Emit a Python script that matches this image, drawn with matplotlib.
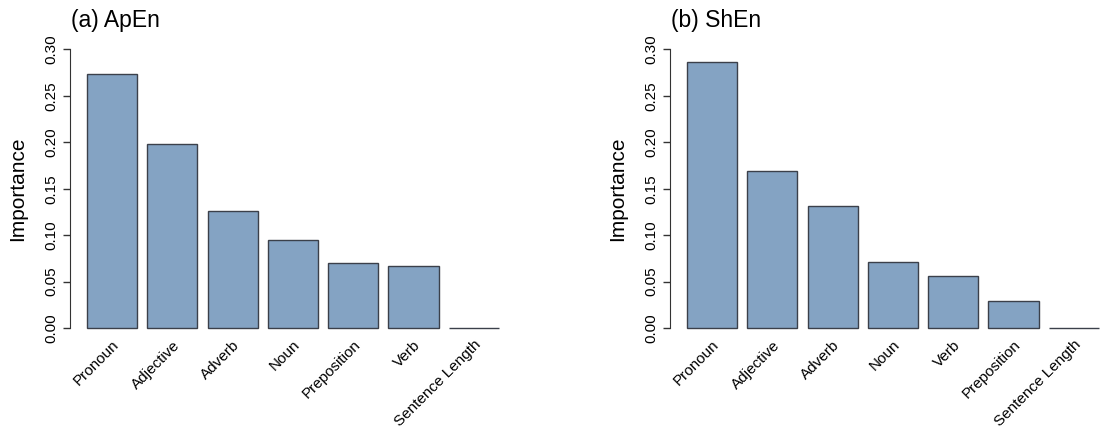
import matplotlib
import numpy as np

matplotlib.use("Agg")
import matplotlib.pyplot as plt

plt.rcParams["font.family"] = ["Liberation Sans", "DejaVu Sans"]

# Panel (a): ApEn
apen_features = ["Pronoun", "Adjective", "Adverb", "Noun", "Preposition", "Verb", "Sentence Length"]
apen_importance = [0.274, 0.198, 0.126, 0.095, 0.070, 0.067, 0.0]

# Panel (b): ShEn
shen_features = ["Pronoun", "Adjective", "Adverb", "Noun", "Verb", "Preposition", "Sentence Length"]
shen_importance = [0.286, 0.169, 0.131, 0.071, 0.056, 0.029, 0.0]

y_ticks = [0.00, 0.05, 0.10, 0.15, 0.20, 0.25, 0.30]

BAR_COLOR = "#84A3C3"
EDGE_COLOR = "#3b404a"
AXIS_COLOR = "#333333"

W, H = 1103, 430


def draw_panel(ax, title, features, values):
    """R barplot look: width 1, space 0.2, left axis only."""
    n = len(values)
    centers = 0.7 + 1.2 * np.arange(n)
    ax.bar(centers, values, width=1.0, color=BAR_COLOR,
           edgecolor=EDGE_COLOR, linewidth=1.0)
    lo, hi = 0.2, 1.2 * n + 0.2
    pad = 0.04 * (hi - lo)
    ax.set_xlim(lo - pad, hi + pad)
    ax.set_ylim(-0.012, 0.312)

    for side in ["top", "right", "bottom"]:
        ax.spines[side].set_visible(False)
    ax.spines["left"].set_bounds(0, 0.30)
    ax.spines["left"].set_color(AXIS_COLOR)

    ax.set_yticks(y_ticks)
    ax.set_yticklabels([f"{t:.2f}" for t in y_ticks], rotation=90, va="center",
                       fontsize=11)
    ax.tick_params(axis="y", length=5, width=1, color=AXIS_COLOR, pad=3.5)
    ax.set_xticks([])

    for c, label in zip(centers, features):
        ax.text(c + 0.1, -0.016, label, rotation=45, ha="right", va="center",
                rotation_mode="anchor", fontsize=11, clip_on=False)

    ax.text(-0.114, 0.5, "Importance", transform=ax.transAxes, rotation=90,
            ha="center", va="center", fontsize=15)
    ax.text(0.002, 1.022, title, transform=ax.transAxes, fontsize=16.5,
            ha="left", va="bottom")


fig = plt.figure(figsize=(W / 100, H / 100), dpi=100)
# axes boxes in pixels: x0, top, width, height
bottom = (H - 339.1) / H
height = 300.8 / H
width = 456 / W
ax1 = fig.add_axes([70 / W, bottom, width, height])
ax2 = fig.add_axes([670 / W, bottom, width, height])

draw_panel(ax1, "(a) ApEn", apen_features, apen_importance)
draw_panel(ax2, "(b) ShEn", shen_features, shen_importance)

fig.savefig("out.png", dpi=100)
